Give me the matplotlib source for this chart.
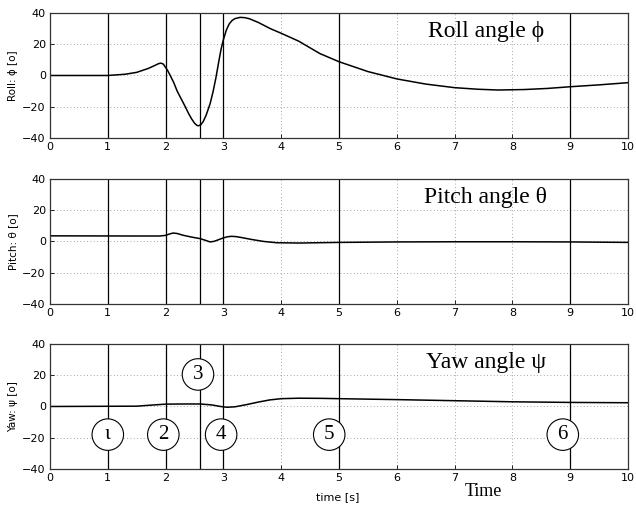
import numpy as np
import matplotlib.pyplot as plt

# values
t_roll = [0, 1.0, 1.3, 1.5, 1.7, 1.8, 1.88, 1.92, 1.96, 2.03, 2.08, 2.14, 2.2, 2.27, 2.34,
          2.4, 2.45, 2.5, 2.54, 2.57, 2.61, 2.65, 2.7, 2.77, 2.82, 2.87, 2.92, 2.96, 3.0,
          3.05, 3.1, 3.15, 3.2, 3.29, 3.37, 3.45, 3.6, 3.81, 4.0, 4.3, 4.67, 5.0,
          5.5, 6.0, 6.5, 7.0, 7.4, 7.75, 8.2, 8.6, 9.0, 9.5, 10]
roll = [0, 0, 0.8, 2, 4.5, 6.2, 7.6, 7.9, 7.3, 3.5, 0, -4.5, -10, -15, -20,
        -24.5, -27.8, -30.5, -31.9, -32.2, -31.5, -29.5, -25.5, -18, -10.5, -1.5, 9, 17, 23,
        29, 33, 35.2, 36.4, 37.2, 37, 36.3, 34, 30, 27, 22, 14, 8.8,
        2.5, -2.2, -5.5, -7.8, -8.8, -9.3, -9, -8.3, -7.2, -6, -4.6]

t_pitch = [0, 1.5, 1.9, 2.0, 2.06, 2.13, 2.2, 2.3, 2.45, 2.6, 2.7, 2.77, 2.84, 2.92, 3.0,
           3.07, 3.14, 3.22, 3.3, 3.5, 3.7, 3.92, 4.3, 5, 6, 7, 8, 9, 10]
pitch = [3.6, 3.5, 3.5, 3.9, 4.7, 5.4, 5.1, 4, 2.8, 1.8, 0.6, -0.3, 0.1, 1.2, 2.3,
         3.0, 3.3, 3.1, 2.6, 1.2, 0, -0.8, -1, -0.6, -0.3, -0.2, -0.2, -0.3, -0.6]

t_yaw = [0, 1.5, 1.8, 2.0, 2.3, 2.6, 2.8, 2.95, 3.06, 3.2, 3.4, 3.6, 3.8, 4.0, 4.3,
         4.7, 5.0, 6, 7, 8, 9, 10]
yaw = [0, 0.2, 1, 1.5, 1.6, 1.6, 1, 0, -0.5, -0.2, 1.2, 2.8, 4.2, 5, 5.3,
       5.2, 5, 4.4, 3.7, 3, 2.6, 2.4]

events = [1, 2, 2.6, 3, 5, 9]
phase_x = [1.0, 1.96, 2.56, 2.96, 4.83, 8.87]
phase_y = [-18, -18, 20.5, -18, -18, -18]
phase_lbl = ['ι', '2', '3', '4', '5', '6']

ylabels = ['Roll: \u03d5 [o]', 'Pitch: θ [o]', 'Yaw: ψ [o]']
titles = ['Roll angle \u03d5', 'Pitch angle θ', 'Yaw angle ψ']

fig = plt.figure(figsize=(6.36, 5.09), dpi=100)
bottoms = [0.7289, 0.4028, 0.0786]
series = [(t_roll, roll), (t_pitch, pitch), (t_yaw, yaw)]

for k in range(3):
    ax = fig.add_axes([0.0786, bottoms[k], 0.909, 0.2456])
    ax.set_xlim(0, 10)
    ax.set_ylim(-40, 40)
    ax.set_xticks(range(11))
    ax.set_yticks([-40, -20, 0, 20, 40])
    ax.set_yticklabels(['\u221240', '\u221220', '0', '20', '40'])
    ax.tick_params(direction='in', length=3, width=0.6, labelsize=8, pad=3)
    ax.grid(True, ls=(0, (1, 3)), color='#888888', lw=0.6)
    for e in events:
        ax.axvline(e, color='black', lw=0.9)
    ax.plot(series[k][0], series[k][1], color='black', lw=1.1)
    for s in ax.spines.values():
        s.set_linewidth(0.9)
        s.set_color('#333333')
    ax.set_ylabel(ylabels[k], fontsize=7.5, labelpad=3)
    ax.text(7.54, 28, titles[k], family=['Liberation Serif', 'DejaVu Serif'], fontsize=17,
            ha='center', va='center')
    if k == 2:
        for x, y, s in zip(phase_x, phase_y, phase_lbl):
            ax.text(x, y, s, family='Liberation Serif', fontsize=15,
                    ha='center', va='center',
                    bbox=dict(boxstyle='circle,pad=0.3', fc='white', ec='black', lw=0.8))

fig.text(338 / 636, 1 - 497 / 509, 'time [s]', fontsize=8, ha='center', va='center')
fig.text(483 / 636, 1 - 492 / 509, 'Time', family='Liberation Serif', fontsize=13,
         ha='center', va='center')

fig.savefig('out.png', dpi=100)
